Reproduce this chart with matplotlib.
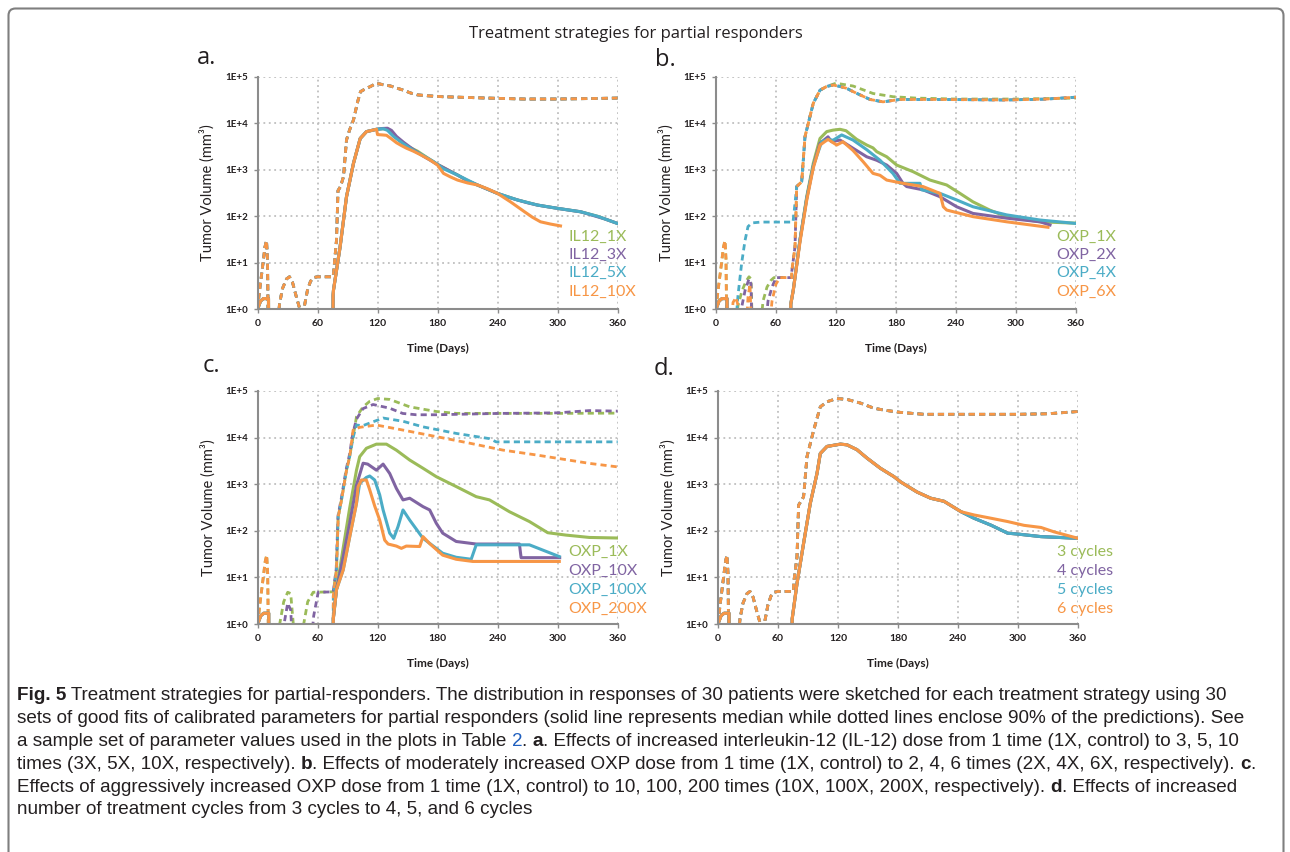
import matplotlib
matplotlib.use("Agg")
import matplotlib.pyplot as plt
import numpy as np
from matplotlib import font_manager
from matplotlib.patches import FancyBboxPatch

# Excel-2007 style series colours: 1st, 2nd, 3rd, 4th strategy
COLORS = ["#9BBB59", "#8064A2", "#4BACC6", "#F79646"]
TEXT = "#231F20"
GRID = "#BFBFBF"
SPINE = "#8C8C8C"

XTICKS = [0, 60, 120, 180, 240, 300, 360]
YTICKS = [1, 10, 100, 1000, 10000, 100000]
YTICK_LABELS = ["1E+0", "1E+1", "1E+2", "1E+3", "1E+4", "1E+5"]

LEGEND_A = ["IL12_1X", "IL12_3X", "IL12_5X", "IL12_10X"]
LEGEND_B = ["OXP_1X", "OXP_2X", "OXP_4X", "OXP_6X"]
LEGEND_C = ["OXP_1X", "OXP_10X", "OXP_100X", "OXP_200X"]
LEGEND_D = ["3 cycles", "4 cycles", "5 cycles", "6 cycles"]

# ---------------------------------------------------------------------------
# Curves as (day, tumour volume mm^3); 0.3 = below axis
# ---------------------------------------------------------------------------

EARLY_MED = [(0, 1.0), (3, 1.5), (6, 1.7), (11, 1.7), (11.1, 0.3)]
SPIKE = [(0, 1.0), (2, 2.5), (5, 8), (7.5, 22), (9, 30), (10, 12), (10.8, 0.3)]
HUMP1 = [(19.5, 0.3), (22, 1.3), (25, 2.8), (29, 4.5), (32, 5.0), (35, 3.8),
         (39, 1.8), (43, 0.9), (44.5, 0.3)]
HUMP2 = [(45.5, 0.3), (47, 1.2), (50, 2.6), (53, 4.0), (56, 4.8), (60, 5.0), (75.5, 5.0)]

# panel a -- IL-12 dose
A_UPPER_RISE = [(76, 5.9), (79, 31), (80.5, 355), (83, 436), (86, 708), (89, 4365),
                (92, 7080), (96, 11750), (100, 28180), (103, 47860), (108, 54950),
                (113, 61660), (119, 72440), (125, 67600), (133, 63100), (140, 56200),
                (146, 51300), (153, 44700), (160, 40700), (170, 38900), (185, 37150),
                (200, 36300), (230, 34700), (267, 33100), (300, 33100), (333, 33900),
                (360, 34700)]
A_MED_RISE = [(75.5, 0.3), (75.6, 2.0), (76, 2.6), (82.6, 22), (89, 263), (96, 1380),
              (102.7, 4700), (109, 6600), (119, 7400)]
A_MED_1X = [(125, 7600), (130, 7400), (136, 5500), (142, 4200), (150, 3200), (160, 2500),
            (170, 1800), (180, 1300), (190, 1000), (200, 770), (210, 580), (220, 470),
            (240, 310), (260, 224), (280, 174), (300, 148), (323, 125), (340, 100), (360, 70)]
A_MED_3X = [(125, 7700), (130, 7800), (134, 7000), (139, 5200), (146, 3900), (156, 2700),
            (166, 1950), (180, 1300), (190, 1000), (200, 770), (210, 580), (220, 470),
            (230, 380), (240, 310), (250, 260), (260, 224), (270, 195), (280, 174),
            (290, 160), (300, 148), (310, 137), (323, 125), (335, 105), (347, 88), (360, 70)]
A_MED_5X = [(122, 7500), (126, 7600), (130, 7000), (136, 5200), (146, 3600), (156, 2600),
            (166, 2000), (176, 1500), (186, 1050), (200, 770), (220, 470), (240, 310),
            (260, 224), (280, 174), (300, 148), (323, 125), (340, 100), (360, 70)]
A_MED_10X = [(120, 5700), (125, 5600), (129, 5500), (134, 4600), (139, 3800), (144, 3300),
             (149, 2900), (156, 2500), (163, 2100), (172, 1650), (180, 1260), (186, 835),
             (193, 700), (200, 600), (210, 520), (220, 470), (230, 390), (240, 310),
             (253, 204), (267, 125), (275, 95), (283, 76), (293, 68), (303, 62)]

# panel b -- moderate OXP dose
B_EARLY_1X = [(0, 0.3), (19, 0.3), (22, 1.2), (26, 2.5), (30, 4.0), (33, 5.0), (35, 4.5),
              (36.5, 0.3), (44, 0.3), (47, 1.5), (51, 3.0), (55, 4.2), (58, 4.8), (75.7, 4.8)]
B_EARLY_2X = [(0, 0.3), (23, 0.3), (26, 1.2), (29, 2.5), (33, 4.5), (35, 3.5), (36, 0.3),
              (49, 0.3), (52, 1.5), (56, 3.0), (60, 4.8), (75.7, 4.8)]
B_EARLY_4X = [(0, 0.3), (19, 0.3), (22, 2.0), (25.7, 10), (29, 30), (32, 60), (36, 72),
              (45, 75), (77, 75), (78.5, 150)]
B_EARLY_6X = [(15, 0.3), (17, 1.4), (20, 1.8), (23, 1.0), (24, 0.3), (30, 0.3), (32, 1.8),
              (34, 3.5), (35.5, 0.3), (53, 0.3), (56, 1.5), (60, 3.5), (64, 4.8), (75.7, 4.8)]
B_UPPER_RISE = [(75.7, 6.3), (79, 22), (80.7, 436), (85.7, 550), (89, 5130), (92.3, 10000),
                (97.3, 26900), (104, 51300), (110.7, 61700), (117, 66100), (124, 61700),
                (130.7, 56200), (137, 47900), (144, 40700), (154, 32400), (167, 28800),
                (184, 32400), (224, 32400), (290, 31600), (330, 33000), (360, 36300)]
B_UPPER_1X_TAIL = [(120, 72400), (137, 63100), (157, 43600), (177, 37150), (200, 34700),
                   (240, 33100), (300, 33100), (360, 34700)]
B_MED_RISE = [(74.6, 0.3), (74.8, 1.3), (77.3, 2.6)]
B_MED_1X = [(84, 31), (90.7, 263), (97.3, 1380), (104, 4700), (110.7, 6600), (117, 7100),
            (124, 7400), (130, 6900), (140.7, 4500), (150.7, 3400), (157, 2950),
            (160.7, 2450), (170.7, 1900), (180.7, 1260), (197, 910), (214, 600),
            (230.7, 470), (244, 310), (257, 204), (274, 135), (290.7, 98), (324, 76), (360, 71)]
B_MED_2X = [(84, 31), (90.7, 240), (97.3, 1200), (104, 3700), (112, 5100), (115.7, 4000),
            (124, 4350), (137, 2900), (150.7, 1900), (160.7, 1600), (170.7, 1260),
            (180.7, 830), (187, 510), (190.7, 435), (207, 370), (224, 263), (240.7, 160),
            (257, 115), (290.7, 91), (324, 76), (334, 65)]
B_MED_4X = [(84, 31), (90.7, 240), (97.3, 1200), (105.7, 4000), (112, 4500), (117, 4300),
            (125.7, 5600), (137, 4350), (150.7, 2700), (164, 1600), (177, 830), (184, 510),
            (204, 510), (205.7, 370), (224, 310), (240.7, 224), (257, 160), (290.7, 107),
            (324, 83), (360, 70)]
B_MED_6X = [(84, 28), (90.7, 220), (97.3, 1100), (104, 3400), (112, 4500), (120.7, 3400),
            (127, 4000), (137, 2600), (147, 1500), (157, 835), (164, 760), (170.7, 600),
            (187, 510), (207, 435), (224, 310), (227.3, 160), (230.7, 136), (257, 98),
            (290.7, 76), (332, 58)]

# panel c -- aggressive OXP dose
C_UPPER_1X = [(20, 0.3), (22, 1.0), (26, 3.0), (30, 4.8), (33, 4.5), (35.6, 1.0), (36, 0.3),
              (44, 0.3), (46, 1.0), (50, 3.0), (55.5, 4.8), (75.5, 4.9), (78.8, 14.5),
              (80.5, 200), (83.8, 457), (88.8, 2000), (92, 3900), (95.4, 10500),
              (98.8, 28200), (105.4, 45700), (112, 60000), (120, 69000), (132, 66000),
              (152, 45700), (178.6, 36300), (198.5, 33100), (300, 33100), (360, 33500)]
C_UPPER_10X = [(0, 0.3), (24, 0.3), (27, 1.2), (30, 2.8), (33, 2.0), (35, 0.3), (53, 0.3),
               (56, 1.5), (60.5, 4.8), (75.5, 4.9), (78.5, 15), (80.3, 210), (83.5, 480),
               (88.5, 2100), (92, 4500), (95, 12000), (98.8, 25000), (105.4, 42000),
               (115.4, 51300), (132, 42700), (145, 33000), (158.6, 30900), (178.6, 30900),
               (240, 33000), (300, 34000), (331.6, 38000), (360, 37000)]
C_UPPER_100X = [(0, 0.3), (75.5, 0.3), (75.6, 4), (78.8, 14.5), (80.5, 200), (83.8, 457),
                (88.8, 2000), (92, 3900), (95.4, 10000), (98.8, 18600), (105, 18000),
                (125.4, 26300), (145.3, 22400), (165.3, 17000), (198.5, 12300),
                (231.8, 9500), (238.4, 8100), (360, 8100)]
C_UPPER_200X = [(75.5, 0.3), (75.6, 4), (78.8, 14.5), (80.5, 200), (83.8, 457), (88.8, 2000),
                (92, 3900), (95.4, 14500), (102, 16600), (118.7, 18600), (145.3, 14500),
                (178.6, 10500), (211.8, 7600), (245, 5400), (278.3, 4250), (331.6, 2800),
                (360, 2350)]
C_MED_RISE = [(75.4, 0.3), (75.6, 1.3), (78.8, 5.5)]
C_MED_1X = [(85.5, 43), (92, 309), (98.8, 2000), (102, 3900), (108.7, 5900), (118.7, 7240),
            (128.7, 7240), (138.7, 5370), (152, 3300), (165.3, 2200), (178.6, 1450),
            (198.5, 890), (218.5, 540), (231.8, 460), (251.7, 257), (271.7, 158), (290, 91),
            (308, 81), (331.6, 72), (360, 70)]
C_MED_10X = [(85.5, 27.5), (92, 145), (98.8, 955), (105.4, 2820), (110, 2700), (118.7, 2000),
             (125.4, 2700), (132, 1700), (138.7, 810), (145.3, 460), (152, 500),
             (165.3, 330), (172, 280), (178.6, 145), (185, 89), (198.5, 59), (218.5, 52),
             (261.7, 52), (263.4, 26.5), (302, 26.5)]
C_MED_100X = [(85.5, 14.5), (92, 74), (98.8, 390), (102, 1050), (108.7, 1400), (112, 1500),
              (117, 1230), (122, 590), (125.4, 280), (132, 89), (136, 69), (140.3, 123),
              (145.3, 280), (152, 170), (165.3, 69), (185, 33), (198.5, 27), (213.5, 24.5),
              (218.5, 50), (271.7, 50), (301.6, 28)]
C_MED_200X = [(85.5, 14.5), (92, 74), (98.8, 390), (100.4, 890), (103.7, 1230), (108.7, 1230),
              (112, 760), (117, 340), (122, 170), (127, 63), (130.4, 52), (138.7, 47),
              (143.7, 42), (148.6, 47), (162, 46), (165.3, 75), (172, 53), (185, 30),
              (198.5, 24.5), (215, 22), (301.6, 22)]

# panel d -- number of cycles
D_UPPER_RISE = [(75.6, 7.4), (79, 27.5), (80.6, 355), (85.6, 537), (89, 3900), (95.7, 14500),
                (102.3, 45700), (109, 58900), (119, 69000), (129, 66000), (142.5, 55000),
                (155.9, 42700), (166, 38900), (182.6, 34700), (206, 31600), (300, 31600),
                (330, 32500), (360, 36300)]
D_MED_COMMON = [(74, 0.3), (74.2, 1.3), (79, 7.4), (85.6, 54), (92.3, 390), (99, 1700),
                (102.3, 4570), (109, 6460), (122.4, 7240), (129, 7000), (139, 5500),
                (149, 3630), (162.5, 2190), (176, 1450), (182.6, 1120), (199, 680),
                (212.7, 500), (226, 430), (243, 257)]
D_MED_3TO5 = [(256, 186), (273, 132), (289.6, 89), (300, 85), (323, 75), (360, 69)]
D_MED_6 = [(256, 219), (273, 186), (289.6, 158), (306, 131), (323, 118), (336, 95), (360, 69)]

CAPTION = [
    [("Fig. 5", "bold", TEXT),
     (" Treatment strategies for partial-responders. The distribution in responses of 30 "
      "patients were sketched for each treatment strategy using 30", "normal", TEXT)],
    [("sets of good fits of calibrated parameters for partial responders (solid line represents "
      "median while dotted lines enclose 90% of the predictions). See", "normal", TEXT)],
    [("a sample set of parameter values used in the plots in Table ", "normal", TEXT),
     ("2", "normal", "#1F5FBF"), (". ", "normal", TEXT), ("a", "bold", TEXT),
     (". Effects of increased interleukin-12 (IL-12) dose from 1 time (1X, control) to 3, 5, 10",
      "normal", TEXT)],
    [("times (3X, 5X, 10X, respectively). ", "normal", TEXT), ("b", "bold", TEXT),
     (". Effects of moderately increased OXP dose from 1 time (1X, control) to 2, 4, 6 times "
      "(2X, 4X, 6X, respectively). ", "normal", TEXT), ("c", "bold", TEXT), (".", "normal", TEXT)],
    [("Effects of aggressively increased OXP dose from 1 time (1X, control) to 10, 100, 200 times "
      "(10X, 100X, 200X, respectively). ", "normal", TEXT), ("d", "bold", TEXT),
     (". Effects of increased", "normal", TEXT)],
    [("number of treatment cycles from 3 cycles to 4, 5, and 6 cycles", "normal", TEXT)],
]
# right edge (px) of each caption line in the figure
CAPTION_RIGHT = [1275, 1275, 1262, 1268, 1245, 547]

W, H = 1290, 852


def fx(px):
    return px / W


def fy(px):
    return 1 - px / H


def plot_panel(ax, curves, labels, legend_xy):
    # curves: list of (upper dashed, median solid) per strategy
    for (upper, _), color in zip(curves, COLORS):
        d, v = np.array(upper, dtype=float).T
        ax.plot(d, v, color=color, lw=2.0, dashes=(2.2, 1.5), solid_capstyle="butt")
    for (_, median), color in zip(curves, COLORS):
        d, v = np.array(median, dtype=float).T
        ax.plot(d, v, color=color, lw=2.2, solid_joinstyle="round")

    ax.set_yscale("log")
    ax.set_xlim(0, 360)
    ax.set_ylim(1, 1e5)
    ax.set_xticks(XTICKS, [str(t) for t in XTICKS], fontsize=7.5, fontweight="bold", family="Lato", color=TEXT)
    ax.set_yticks(YTICKS, YTICK_LABELS, fontsize=7, fontweight="bold", family="Lato", color=TEXT)
    ax.minorticks_off()
    ax.tick_params(length=3, width=1, color=SPINE, pad=4)
    ax.grid(True, color=GRID, linestyle=(0, (1, 2)), linewidth=1.3)
    ax.set_axisbelow(True)
    for side in ("top", "right"):
        ax.spines[side].set_visible(False)
    for side in ("left", "bottom"):
        ax.spines[side].set_color(SPINE)
        ax.spines[side].set_linewidth(1.5)
    ax.set_xlabel("Time (Days)", fontsize=8.5, fontweight="bold", family="Lato", color=TEXT, labelpad=11)
    ax.set_ylabel("Tumor Volume (mm³)", fontsize=10.5, family="Lato", color=TEXT, labelpad=7)

    for label, color, (x, y) in zip(labels, COLORS, legend_xy):
        ax.text(x, y, label, transform=ax.transAxes, color=color, fontsize=11.5, family="Lato",
                ha="left", va="center", clip_on=False)


def draw_caption(fig):
    names = {f.name for f in font_manager.fontManager.ttflist}
    family = "Liberation Sans Narrow" if "Liberation Sans Narrow" in names else "Liberation Sans"
    cap_ax = fig.add_axes([0, 0, 1, 1])
    cap_ax.axis("off")
    cap_ax.set_xlim(0, 1)
    cap_ax.set_ylim(0, 1)

    lines = []
    for i, line in enumerate(CAPTION):
        prev = None
        pieces = []
        for text, weight, color in line:
            if prev is None:
                t = cap_ax.text(fx(17), fy(697 + 7 + 22.9 * i), text, ha="left", va="bottom",
                                fontsize=12, fontweight=weight, color=color, family=family)
            else:
                t = cap_ax.annotate(text, xy=(1, 0), xycoords=prev, ha="left", va="bottom",
                                    fontsize=12, fontweight=weight, color=color, family=family)
            pieces.append(t)
            prev = t
        lines.append(pieces)

    # one font size for the whole caption, so that no line runs past its right edge
    fig.canvas.draw()
    r = fig.canvas.get_renderer()
    scale = min((right - 17) / (p[-1].get_window_extent(r).x1 - p[0].get_window_extent(r).x0)
                for p, right in zip(lines, CAPTION_RIGHT))
    for pieces in lines:
        for t in pieces:
            t.set_fontsize(t.get_fontsize() * scale)


def main():
    fig = plt.figure(figsize=(W / 100, H / 100), dpi=100)

    # outer rounded frame
    fig.add_artist(FancyBboxPatch((0.085, -0.2), 12.75, 8.635,
                                  boxstyle="round,pad=0,rounding_size=0.07",
                                  transform=fig.dpi_scale_trans, fill=False,
                                  edgecolor="#7F7F7F", lw=1.5))

    ax_a = fig.add_axes([fx(257.5), fy(309.3), 360 / W, 232.6 / H])
    ax_b = fig.add_axes([fx(716), fy(309.3), 360 / W, 232.6 / H])
    ax_c = fig.add_axes([fx(257.7), fy(624), 360 / W, 233 / H])
    ax_d = fig.add_axes([fx(718), fy(624), 360 / W, 233 / H])

    upper_ctrl = SPIKE + HUMP1 + HUMP2
    a_upper = upper_ctrl + A_UPPER_RISE
    curves_a = [(a_upper, EARLY_MED + A_MED_RISE + A_MED_1X),
                (a_upper, EARLY_MED + A_MED_RISE + A_MED_3X),
                (a_upper, EARLY_MED + A_MED_RISE + A_MED_5X),
                (a_upper, EARLY_MED + A_MED_RISE + A_MED_10X)]
    curves_b = [(SPIKE + B_EARLY_1X[1:] + B_UPPER_RISE[:9] + B_UPPER_1X_TAIL, EARLY_MED + B_MED_RISE + B_MED_1X),
                (B_EARLY_2X + B_UPPER_RISE, EARLY_MED + B_MED_RISE + B_MED_2X),
                (B_EARLY_4X + B_UPPER_RISE[2:], EARLY_MED + B_MED_RISE + B_MED_4X),
                (SPIKE + B_EARLY_6X + B_UPPER_RISE, EARLY_MED + B_MED_RISE + B_MED_6X)]
    curves_c = [(SPIKE + C_UPPER_1X, EARLY_MED + C_MED_RISE + C_MED_1X),
                (C_UPPER_10X, EARLY_MED + C_MED_RISE + C_MED_10X),
                (C_UPPER_100X, EARLY_MED + C_MED_RISE + C_MED_100X),
                (SPIKE + C_UPPER_200X, EARLY_MED + C_MED_RISE + C_MED_200X)]
    d_upper = upper_ctrl + D_UPPER_RISE
    curves_d = [(d_upper, EARLY_MED + D_MED_COMMON + D_MED_3TO5),
                (d_upper, EARLY_MED + D_MED_COMMON + D_MED_3TO5),
                (d_upper, EARLY_MED + D_MED_COMMON + D_MED_3TO5),
                (d_upper, EARLY_MED + D_MED_COMMON + D_MED_6)]

    leg_top = [(0.863, 0.312), (0.863, 0.233), (0.863, 0.155), (0.863, 0.076)]
    leg_top_b = [(0.944, y) for _, y in leg_top]
    leg_bot = [(0.862, 0.310), (0.862, 0.228), (0.862, 0.146), (0.862, 0.066)]
    leg_bot_d = [(0.941, y) for _, y in leg_bot]

    plot_panel(ax_a, curves_a, LEGEND_A, leg_top)
    plot_panel(ax_b, curves_b, LEGEND_B, leg_top_b)
    plot_panel(ax_c, curves_c, LEGEND_C, leg_bot)
    plot_panel(ax_d, curves_d, LEGEND_D, leg_bot_d)

    fig.text(fx(636), fy(34), "Treatment strategies for partial responders", ha="center", va="center",
             fontsize=12, family="Open Sans", color=TEXT)
    for letter, x, y in (("a.", 207, 58), ("b.", 665, 60), ("c.", 211, 366), ("d.", 664, 369)):
        fig.text(fx(x), fy(y), letter, ha="center", va="center", fontsize=17, family="Open Sans", color=TEXT)

    draw_caption(fig)
    fig.savefig("out.png", dpi=100)
    plt.close(fig)


if __name__ == "__main__":
    main()
